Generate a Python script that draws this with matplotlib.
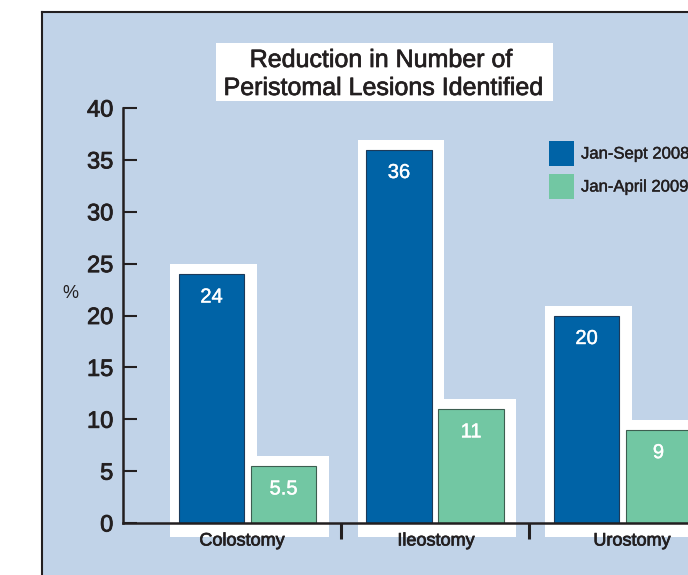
import matplotlib
matplotlib.use("Agg")
import matplotlib.pyplot as plt
from matplotlib.patches import Rectangle
import matplotlib.patheffects as pe
import numpy as np

plt.rcParams['font.family'] = ['Liberation Sans', 'DejaVu Sans']

categories = ["Colostomy", "Ileostomy", "Urostomy"]
series_names = ["Jan-Sept 2008", "Jan-April 2009"]
values_2008 = [24, 36, 20]
values_2009 = [5.5, 11, 9]
value_labels_2008 = ["24", "36", "20"]
value_labels_2009 = ["5.5", "11", "9"]
y_ticks = [0, 5, 10, 15, 20, 25, 30, 35, 40]
title_lines = ["Reduction in Number of", "Peristomal Lesions Identified"]
y_label = "%"

W, H = 688, 575
BLUE = "#0063a6"
GREEN = "#72c7a3"
PANEL = "#c1d3e8"
DARK = "#231f20"

heavy = [pe.withStroke(linewidth=0.5, foreground=DARK)]
heavy_w = [pe.withStroke(linewidth=0.3, foreground="white")]

fig = plt.figure(figsize=(W / 100, H / 100), dpi=100)
fig.patch.set_facecolor("white")

def fx(px):
    return px / W

def fy(py):
    return 1 - py / H

# Background panel with border on left/top
panel = Rectangle((fx(42), -0.1), 1.2, fy(12) + 0.1, transform=fig.transFigure,
                  facecolor=PANEL, edgecolor="none", zorder=-5)
fig.add_artist(panel)
fig.add_artist(plt.Line2D([fx(42), fx(42)], [fy(12), 0], transform=fig.transFigure,
                          color=DARK, lw=1.5, zorder=-4))
fig.add_artist(plt.Line2D([fx(42), 1.0], [fy(12), fy(12)], transform=fig.transFigure,
                          color=DARK, lw=1.5, zorder=-4))

# Axes: y from 108 px (40) to 523 px (0), x from 123 px to right edge
ax_left, ax_right = 123, 688
ax_top, ax_bot = 108, 523
ax = fig.add_axes([fx(ax_left), fy(ax_bot), fx(ax_right - ax_left), (ax_bot - ax_top) / H])
ax.set_facecolor("none")
ax.set_zorder(1)

group_spacing_px = 187.5
first_center_px = 247.5
xmin = -(first_center_px - ax_left) / group_spacing_px
xmax = (ax_right - first_center_px) / group_spacing_px
ax.set_xlim(xmin, xmax)
ax.set_ylim(0, 40)

x = np.arange(len(categories))
bar_w = 0.347
offset = 0.192
units_per_px_y = 40 / (ax_bot - ax_top)
pad_l = 8.5 / group_spacing_px
pad_r = 12.5 / group_spacing_px
pad_top = 10 * units_per_px_y
pad_bot = 14 * units_per_px_y

# white halos
for xs, vals in [(x - offset, values_2008), (x + offset, values_2009)]:
    for xi, v in zip(xs, vals):
        r = Rectangle((xi - bar_w / 2 - pad_l, -pad_bot), bar_w + pad_l + pad_r,
                      v + pad_top + pad_bot,
                      facecolor="white", edgecolor="none", zorder=1, clip_on=False)
        ax.add_patch(r)

b1 = ax.bar(x - offset, values_2008, width=bar_w, color=BLUE, edgecolor="#1c3a5a",
            linewidth=0.8, zorder=2)
b2 = ax.bar(x + offset, values_2009, width=bar_w, color=GREEN, edgecolor="#3d5e50",
            linewidth=0.8, zorder=2)

for xs, vals, labs in [(x - offset, values_2008, value_labels_2008),
                       (x + offset, values_2009, value_labels_2009)]:
    for xi, v, lab in zip(xs, vals, labs):
        ax.annotate(lab, (xi, v), xytext=(0, -23 * 0.72), textcoords="offset points",
                    ha="center", va="center", color="white", fontsize=14.5, zorder=3,
                    path_effects=heavy_w)

# spines
for s in ["top", "right"]:
    ax.spines[s].set_visible(False)
ax.spines["left"].set_color(DARK)
ax.spines["left"].set_linewidth(1.8)
ax.spines["bottom"].set_color(DARK)
ax.spines["bottom"].set_linewidth(1.8)
ax.spines["left"].set_zorder(4)
ax.spines["bottom"].set_zorder(4)

ax.set_yticks(y_ticks)
ax.set_yticklabels([str(t) for t in y_ticks])
ax.tick_params(axis="y", direction="in", length=10, width=1.5, color=DARK,
               labelsize=17, labelcolor=DARK, pad=7)
for t in ax.get_yticklabels():
    t.set_path_effects([pe.withStroke(linewidth=0.6, foreground=DARK)])

ax.set_xticks([0.5, 1.5])
ax.set_xticklabels(["", ""])
ax.tick_params(axis="x", direction="out", length=11.5, width=2.2, color=DARK)

label_shift = [-0.03, 0.005, 0.05]
for xi, cat, sh in zip(x, categories, label_shift):
    ax.text(xi + sh, -18 * units_per_px_y, cat, ha="center", va="center",
            fontsize=13, color=DARK, clip_on=False, zorder=5, path_effects=heavy)

fig.text(fx(70), fy(293), y_label, ha="center", va="center", fontsize=13, color=DARK)

# Title box
fig.add_artist(Rectangle((fx(216), fy(101)), fx(553 - 216), (101 - 43) / H,
                         transform=fig.transFigure, facecolor="white",
                         edgecolor="none", zorder=2))
fig.text(fx(381), fy(60), title_lines[0], ha="center", va="center",
         fontsize=18, color=DARK, zorder=3, path_effects=heavy)
fig.text(fx(383), fy(88), title_lines[1], ha="center", va="center",
         fontsize=18, color=DARK, zorder=3, path_effects=heavy)

# Legend
for i, (name, col) in enumerate(zip(series_names, [BLUE, GREEN])):
    top = 141 + i * 33
    fig.add_artist(Rectangle((fx(549), fy(top + 25)), fx(25), 25 / H,
                             transform=fig.transFigure, facecolor=col,
                             edgecolor="none", zorder=2))
    fig.text(fx(581), fy(top + 13), name, ha="left", va="center",
             fontsize=12, color=DARK, zorder=3,
             path_effects=[pe.withStroke(linewidth=0.3, foreground=DARK)])

fig.savefig("out.png", dpi=100, facecolor=fig.get_facecolor())
